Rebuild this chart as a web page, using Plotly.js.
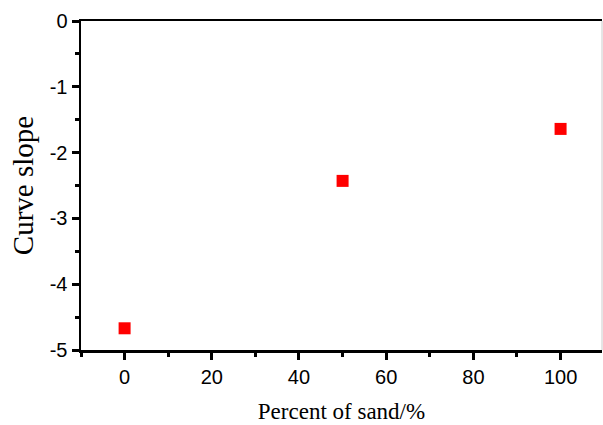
<!DOCTYPE html>
<html><head><meta charset="utf-8">
<script src="https://cdn.plot.ly/plotly-3.0.1.min.js"></script>
<style>html,body{margin:0;padding:0;background:#fff}</style>
</head><body><div id="chart" style="width:603px;height:425px"></div>
<script>
var sandPercent = [0, 50, 100];
var curveSlope = [-4.67, -2.43, -1.64];
var xTickVals = [0, 20, 40, 60, 80, 100];
var yTickVals = [0, -1, -2, -3, -4, -5];

var trace = {
  x: sandPercent, y: curveSlope, mode: 'markers', type: 'scatter',
  marker: {symbol: 'square', size: 12, color: '#ff0000'},
  showlegend: false, hoverinfo: 'none'
};
var layout = {
  width: 603, height: 425,
  margin: {l: 81, r: 1, t: 21, b: 75},
  paper_bgcolor: '#fff', plot_bgcolor: '#fff',
  xaxis: {
    range: [-10, 109.5], tickvals: xTickVals, ticktext: xTickVals.map(String),
    ticks: 'outside', ticklen: 7, tickwidth: 3, tickcolor: '#000',
    showline: true, linewidth: 2.5, linecolor: '#000', mirror: true,
    showgrid: false, zeroline: false,
    minor: {dtick: 10, tick0: 0, ticks: 'outside', ticklen: 4, tickwidth: 3, tickcolor: '#000', showgrid: false},
    tickfont: {family: 'Liberation Sans, Arial, sans-serif', size: 20, color: '#000'},
    title: {text: 'Percent of sand/%', font: {family: 'Liberation Serif, Times New Roman, serif', size: 23, color: '#000'}, standoff: 17}
  },
  yaxis: {
    range: [-5, 0], tickvals: yTickVals, ticktext: yTickVals.map(String),
    ticks: 'outside', ticklen: 7, tickwidth: 3, tickcolor: '#000',
    showline: true, linewidth: 2.5, linecolor: '#000',
    showgrid: false, zeroline: false,
    minor: {dtick: 0.5, tick0: 0, ticks: 'outside', ticklen: 4, tickwidth: 3, tickcolor: '#000', showgrid: false},
    tickfont: {family: 'Liberation Sans, Arial, sans-serif', size: 20, color: '#000'},
    title: {text: 'Curve slope', font: {family: 'Liberation Serif, Times New Roman, serif', size: 29, color: '#000'}, standoff: 8}
  },
  shapes: [{type: 'line', xref: 'paper', yref: 'paper', x0: 1, x1: 1, y0: 0, y1: 1, line: {color: '#cccccc', width: 1}}]
};
Plotly.newPlot('chart', [trace], layout, {staticPlot: true, displayModeBar: false});
</script></body></html>
